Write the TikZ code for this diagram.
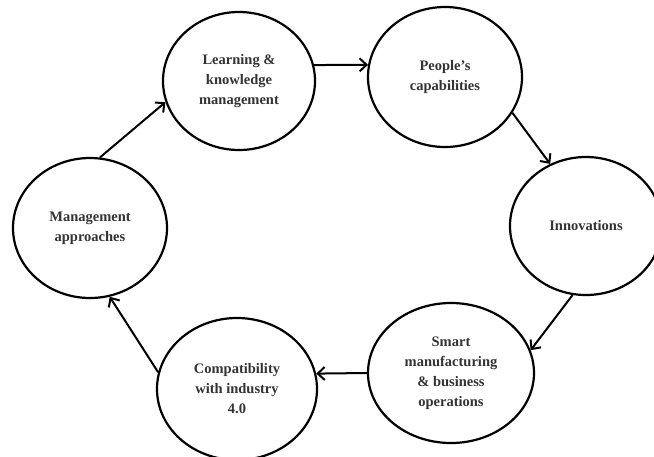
\documentclass[tikz,border=0pt]{standalone}
\usepackage{fontspec}
\setmainfont{Liberation Serif}
\usetikzlibrary{shapes.geometric,arrows.meta}
\definecolor{txt}{HTML}{333333}
\tikzset{
  bub/.style={ellipse, draw=black, line width=2.2pt, inner sep=0pt,
    align=center, text=txt, font=\fontsize{14.5}{20}\selectfont\bfseries},
  arr/.style={line width=2pt, -{Straight Barb[length=7pt,width=13pt,line width=2pt]}}
}
\begin{document}
\begin{tikzpicture}[x=1pt,y=-1pt]
\useasboundingbox (0,0) rectangle (654,456);
\node[bub, minimum width=152pt, minimum height=138pt] (e1) at (239,81) {Learning \&\\knowledge\\management};
\node[bub, minimum width=154pt, minimum height=140pt] (e2) at (445,77) {People’s\\capabilities};
\node[bub, minimum width=152pt, minimum height=138pt] (e3) at (586,226) {Innovations};
\node[bub, minimum width=166pt, minimum height=140pt] (e4) at (451,373) {Smart\\manufacturing\\\& business\\operations};
\node[bub, minimum width=160pt, minimum height=142pt] (e5) at (237,389) {Compatibility\\with industry\\4.0};
\node[bub, minimum width=154pt, minimum height=140pt] (e6) at (90,228) {Management\\approaches};
\draw[arr] (e1.12) -- (e2.171);
\draw[arr] (e2.-28) -- (e3.120);
\draw[arr] (e3.-101) -- (e4.16);
\draw[arr] (e4.180) -- (e5.11);
\draw[arr] (e5.168) -- (e6.-74);
\draw[arr] (e6.82) -- (e1.196);
\end{tikzpicture}
\end{document}
